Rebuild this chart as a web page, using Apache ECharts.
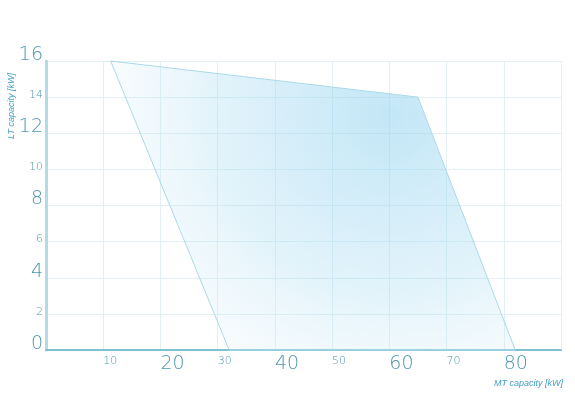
<!DOCTYPE html>
<html>
<head>
<meta charset="utf-8">
<script src="https://cdn.jsdelivr.net/npm/echarts@6/dist/echarts.min.js"></script>
<style>
  html, body { margin: 0; padding: 0; background: #fff; }
  #container_cap { width: 575px; height: 406px; }
</style>
</head>
<body>
<div id="container_cap"></div>
<script>
// operating range polygon (MT kW, LT kW)
var polyMT = [11.3, 65, 82, 32];
var polyLT = [16, 14, 0, 0];

// tick labels, big / small style
var xBig = [20, 40, 60, 80];
var xSmall = [10, 30, 50, 70];
var yBig = [0, 4, 8, 12, 16];
var ySmall = [2, 6, 10, 14];

var labelColor = '#4e97ab';
var labelFont = 'DejaVu Sans';

function richLabels(bigLH, smallLH) {
    return {
        b: { fontSize: 19, lineHeight: bigLH, color: labelColor, fontFamily: labelFont, fontWeight: 200 },
        s: { fontSize: 11, lineHeight: smallLH, color: labelColor, fontFamily: labelFont, fontWeight: 200 }
    };
}

var myChart = echarts.init(document.getElementById('container_cap'));
var option = {
    animation: false,
    grid: {
        left: 46,
        right: 14,
        top: 61,
        bottom: 56
    },
    xAxis: {
        type: 'value',
        min: 0,
        max: 90,
        interval: 10,
        axisLine: {
            show: true,
            lineStyle: { color: '#7fc1d1', width: 2 }
        },
        axisTick: { show: false },
        splitLine: {
            show: true,
            lineStyle: { color: '#e2f0f4', width: 1 }
        },
        axisLabel: {
            show: true,
            showMinLabel: true,
            showMaxLabel: true,
            margin: 7,
            align: 'left',
            verticalAlign: 'top',
            formatter: function (v) {
                if (xBig.indexOf(v) >= 0) return '{b|' + v + '}';
                if (xSmall.indexOf(v) >= 0) return '{s|' + v + '}';
                return '';
            },
            rich: richLabels(14, 8)
        }
    },
    yAxis: {
        type: 'value',
        min: 0,
        max: 16,
        interval: 2,
        axisLine: {
            show: true,
            lineStyle: { color: '#b3dbe5', width: 3 }
        },
        axisTick: { show: false },
        splitLine: {
            show: true,
            lineStyle: { color: '#e2f0f4', width: 1 }
        },
        axisLabel: {
            show: true,
            margin: 3,
            align: 'right',
            verticalAlign: 'bottom',
            formatter: function (v) {
                if (yBig.indexOf(v) >= 0) return '{b|' + v + '}';
                if (ySmall.indexOf(v) >= 0) return '{s|' + v + '}';
                return '';
            },
            rich: richLabels(12, 4)
        }
    },
    graphic: [
        {
            type: 'text',
            rotation: Math.PI / 2,
            x: 11,
            y: 106,
            style: {
                text: 'LT capacity [kW]',
                fill: '#3f9ec4',
                font: 'italic 9px "Liberation Sans"',
                align: 'center',
                verticalAlign: 'middle'
            }
        },
        {
            type: 'text',
            right: 12,
            top: 379,
            style: {
                text: 'MT capacity [kW]',
                fill: '#3f9ec4',
                font: 'italic 9px "Liberation Sans"'
            }
        }
    ],
    series: [
        {
            name: 'range',
            type: 'custom',
            data: [[0, 0]],
            renderItem: function (params, api) {
                var pts = [];
                for (var i = 0; i < polyMT.length; i++) {
                    pts.push(api.coord([polyMT[i], polyLT[i]]));
                }
                return {
                    type: 'polygon',
                    shape: { points: pts },
                    style: {
                        fill: {
                            type: 'radial',
                            x: 0.69,
                            y: 0.19,
                            r: 1.08,
                            colorStops: [
                                { offset: 0, color: 'rgba(150,212,240,0.58)' },
                                { offset: 0.55, color: 'rgba(170,220,242,0.35)' },
                                { offset: 1, color: 'rgba(225,242,250,0.15)' }
                            ]
                        },
                        stroke: '#a9d9e8',
                        lineWidth: 1
                    }
                };
            }
        }
    ]
};
myChart.setOption(option);
window.onresize = myChart.resize;
</script>
</body>
</html>
